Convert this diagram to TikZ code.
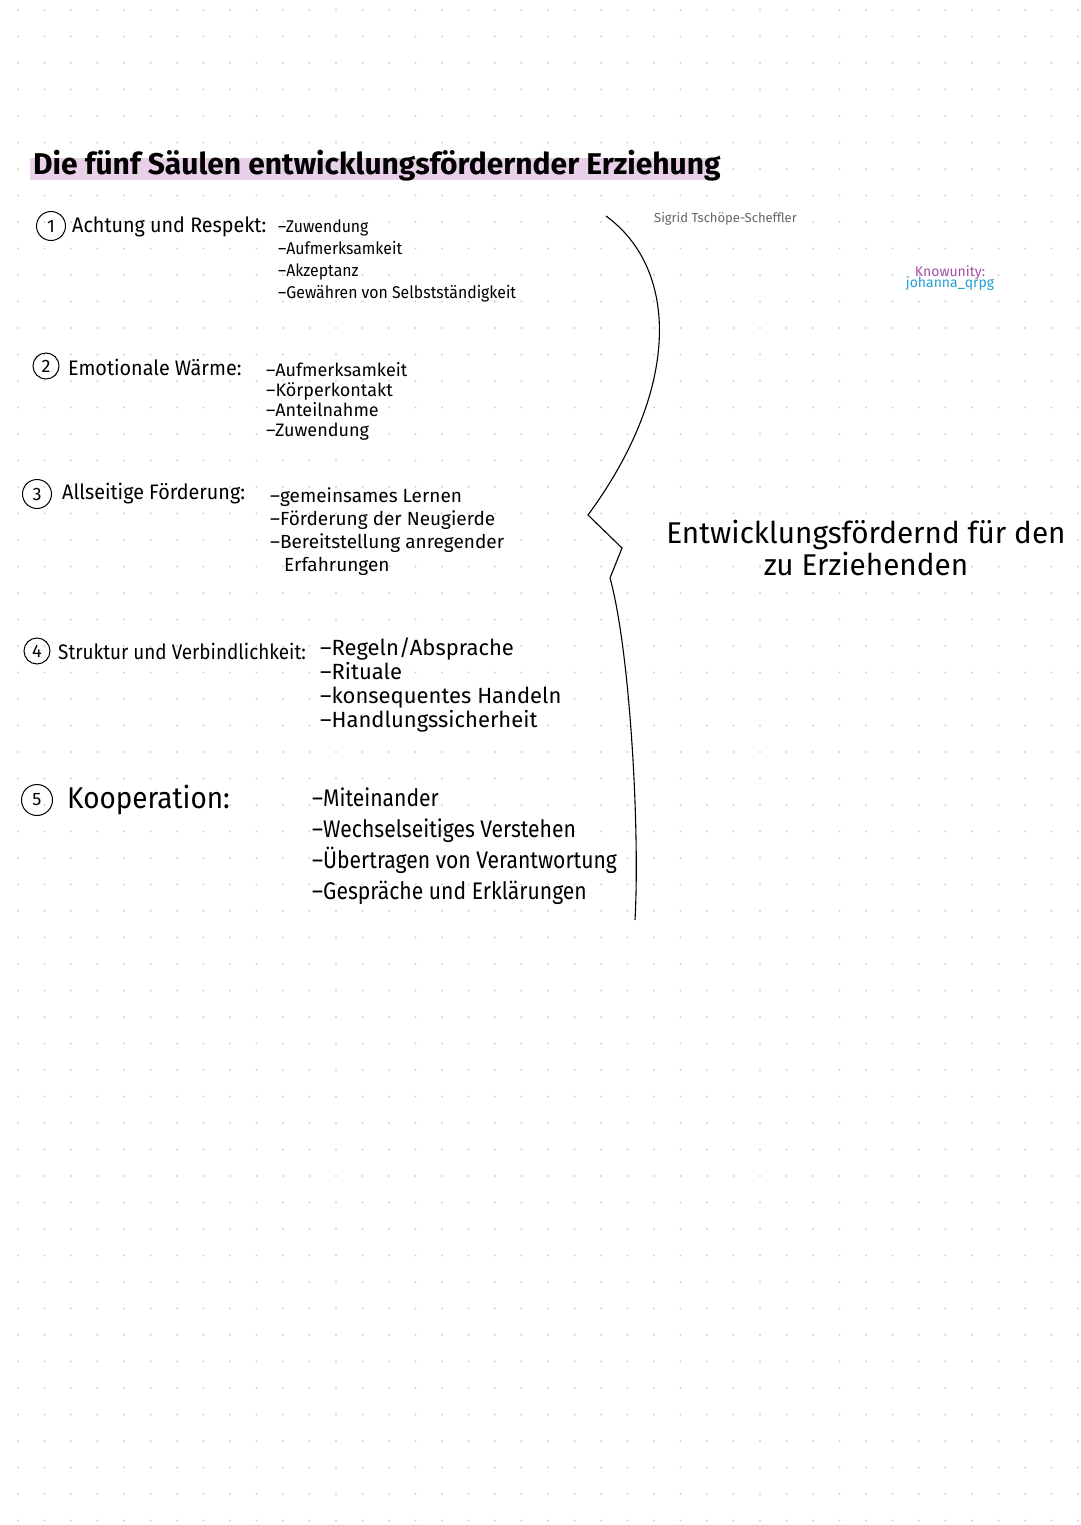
\documentclass[tikz,border=0pt]{standalone}
\usepackage{fontspec}
\setmainfont{Fira Sans}
\begin{document}
\begin{tikzpicture}[x=1pt,y=-1pt,
  item/.style={anchor=north west,inner sep=0pt,align=left,font=\fontsize{18}{20}\selectfont},
  head/.style={anchor=west,inner sep=0pt,font=\fontsize{21}{24}\selectfont\addfontfeatures{FakeStretch=0.94}},
  num/.style={circle,draw,line width=1pt,inner sep=1.5pt,minimum size=29pt,font=\fontsize{18}{18}\selectfont}]
\useasboundingbox (0,0) rectangle (1080,1525);
\fill[white] (0,0) rectangle (1080,1525);
\foreach \i in {0,...,40}{\foreach \j in {0,...,57}{\fill[gray!35] (18+26.5*\i,10+26.5*\j) circle (1.1);}}
% title
\fill[violet!18] (30,158) rectangle (715,180);
\node[anchor=west,inner sep=0pt,font=\fontsize{30}{32}\selectfont\bfseries] (title) at (33,166) {Die fünf Säulen entwicklungsfördernder Erziehung};
\node[anchor=west,inner sep=0pt,text=gray!80!black,font=\fontsize{13}{14}\selectfont] (auth) at (654,219) {Sigrid Tschöpe-Scheffler};
\node[anchor=center,inner sep=0pt,align=center,font=\fontsize{14}{14}\selectfont] (ku) at (950,278) {\textcolor{violet!70}{Knowunity:}\\[-3pt]\textcolor{cyan!70!teal}{johanna\_qrpg}};
% sections
\node[num] (n1) at (51,226) {1};
\node[head] (h1) at (72,227) {Achtung und Respekt:};
\node[item,font=\fontsize{17}{22}\selectfont\addfontfeatures{FakeStretch=0.93}] (l1) at (278,220) {–Zuwendung\\–Aufmerksamkeit\\–Akzeptanz\\–Gewähren von Selbstständigkeit};
\node[num,minimum size=26pt] (n2) at (46,366) {2};
\node[head] (h2) at (68,367) {Emotionale Wärme:};
\node[item] (l2) at (266,362) {–Aufmerksamkeit\\–Körperkontakt\\–Anteilnahme\\–Zuwendung};
\node[num] (n3) at (37,494) {3};
\node[head] (h3) at (62,494) {Allseitige Förderung:};
\node[item,font=\fontsize{19}{23}\selectfont] (l3) at (270,487) {–gemeinsames Lernen\\–Förderung der Neugierde\\–Bereitstellung anregender\\\hspace*{14pt}Erfahrungen};
\node[num,minimum size=26pt] (n4) at (37,651) {4};
\node[head,font=\fontsize{21}{24}\selectfont\addfontfeatures{FakeStretch=0.9}] (h4) at (58,651) {Struktur und Verbindlichkeit:};
\node[item,font=\fontsize{22}{24}\selectfont] (l4) at (320,638) {–Regeln/Absprache\\–Rituale\\–konsequentes Handeln\\–Handlungssicherheit};
\node[num,minimum size=31pt] (n5) at (37,800) {5};
\node[head,font=\fontsize{30}{32}\selectfont\addfontfeatures{FakeStretch=0.93}] (h5) at (67,800) {Kooperation:};
\node[item,font=\fontsize{24}{31}\selectfont\addfontfeatures{FakeStretch=0.88}] (l5) at (312,788) {–Miteinander\\–Wechselseitiges Verstehen\\–Übertragen von Verantwortung\\–Gespräche und Erklärungen};
% brace
\coordinate (bt) at (606,216);
\coordinate (tip) at (588,515);
\coordinate (bb) at (635,920);
\draw[line width=1.1pt] (bt) .. controls (680,270) and (680,390) .. (tip)
  -- (622,548) -- (610,578)
  .. controls (630,650) and (640,830) .. (bb);
\node[anchor=center,align=center,inner sep=0pt,font=\fontsize{30}{32}\selectfont\addfontfeatures{FakeStretch=0.99}] (res) at (866,548) {Entwicklungsfördernd für den\\zu Erziehenden};
\end{tikzpicture}
\end{document}
